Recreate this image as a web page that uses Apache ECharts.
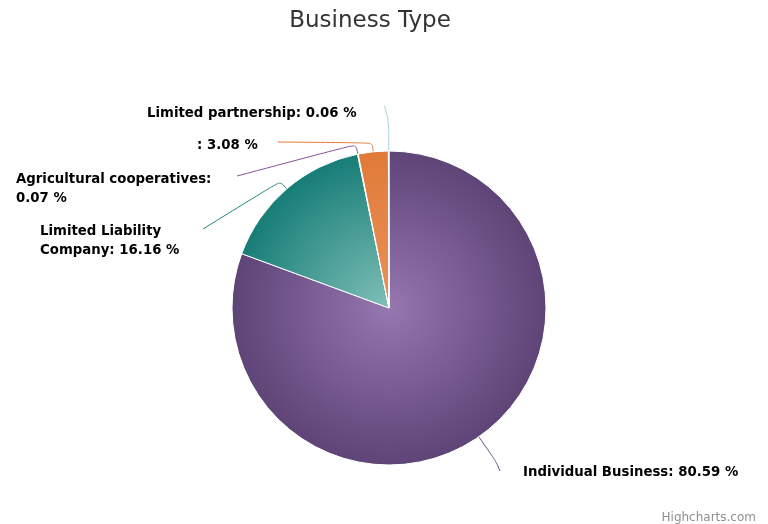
<!DOCTYPE html>
<html><head><meta charset="utf-8">
<script src="https://cdn.jsdelivr.net/npm/echarts@6/dist/echarts.min.js"></script>
<style>html,body{margin:0;padding:0;background:#fff}#c{width:768px;height:524px}</style>
</head><body><div id="c"></div>
<script>
const categories = ["Individual Business", "Limited Liability Company", "Agricultural cooperatives", "", "Limited partnership"];
const shares = [80.59, 16.16, 0.07, 3.08, 0.06];

// styling (not data)
const palette = [["#9677b1", "#5e4477"], ["#7fc0b8", "#177d77"], ["#b07ac0", "#7e4a8e"], ["#e8925a", "#e07b39"], ["#cfe3ec", "#9fc5d6"]];
const lineColors = ["#6a5080", "#1f857f", "#8a4f9a", "#e07b39", "#a8cddc"];
const labelAnchor = [[523, 473], [40, 241], [16, 189], [197, 146], [147, 114]]; // text box left / middle
const labelWrap = [null, 141, 204, null, null];
const lineGap = [23, 22, 17, 20, 28];
const lineDy = [-2, -12, -13, -4, -8];
const lineOut = [30, 10, 10, 9, 30];

const chart = echarts.init(document.getElementById('c'));
const cx = 389, cy = 308, r = 157;
chart.setOption({
  animation: false,
  title: { text: 'Business Type', left: 365, top: 5, textAlign: 'center', textStyle: { fontFamily: 'DejaVu Sans', fontSize: 23, fontWeight: 'normal', color: '#333' } },
  graphic: [{ type: 'text', right: 12, bottom: 0, style: { text: 'Highcharts.com', fontFamily: 'DejaVu Sans', fontSize: 12, fill: '#909090' } }],
  series: [{
    type: 'pie',
    center: [cx, cy],
    radius: r,
    startAngle: 90,
    clockwise: true,
    avoidLabelOverlap: false,
    label: {
      formatter: p => p.name + ': ' + p.value.toFixed(2) + ' %',
      fontFamily: 'DejaVu Sans', fontSize: 13.3, fontWeight: 'bold', color: '#000', lineHeight: 19
    },
    labelLine: { length: 20, length2: 30, lineStyle: { width: 1 } },
    itemStyle: { borderColor: '#fff', borderWidth: 1 },
    labelLayout: function (p) {
      const i = p.dataIndex;
      const a = labelAnchor[i];
      const w = p.labelRect.width;
      const p0 = p.labelLinePoints[0];
      const dx = p0[0] - cx, dy = p0[1] - cy, d = Math.sqrt(dx * dx + dy * dy);
      const p1 = [p0[0] + dx / d * lineOut[i], p0[1] + dy / d * lineOut[i]];
      const onRight = a[0] > cx;
      const p2 = onRight ? [a[0] - lineGap[i], a[1] + lineDy[i]] : [a[0] + w + lineGap[i], a[1] + lineDy[i]];
      return { x: a[0], y: a[1], align: 'left', verticalAlign: 'middle', labelLinePoints: [p0, p1, p2] };
    },
    data: categories.map((n, i) => ({
      name: n, value: shares[i],
      itemStyle: { color: { type: 'radial', x: cx, y: cy, r: r, global: true, colorStops: [{ offset: 0, color: palette[i][0] }, { offset: 1, color: palette[i][1] }] } },
      labelLine: { smooth: 0.3, lineStyle: { color: lineColors[i] } },
      label: labelWrap[i] ? { width: labelWrap[i], overflow: 'break' } : {}
    }))
  }]
});
</script></body></html>
